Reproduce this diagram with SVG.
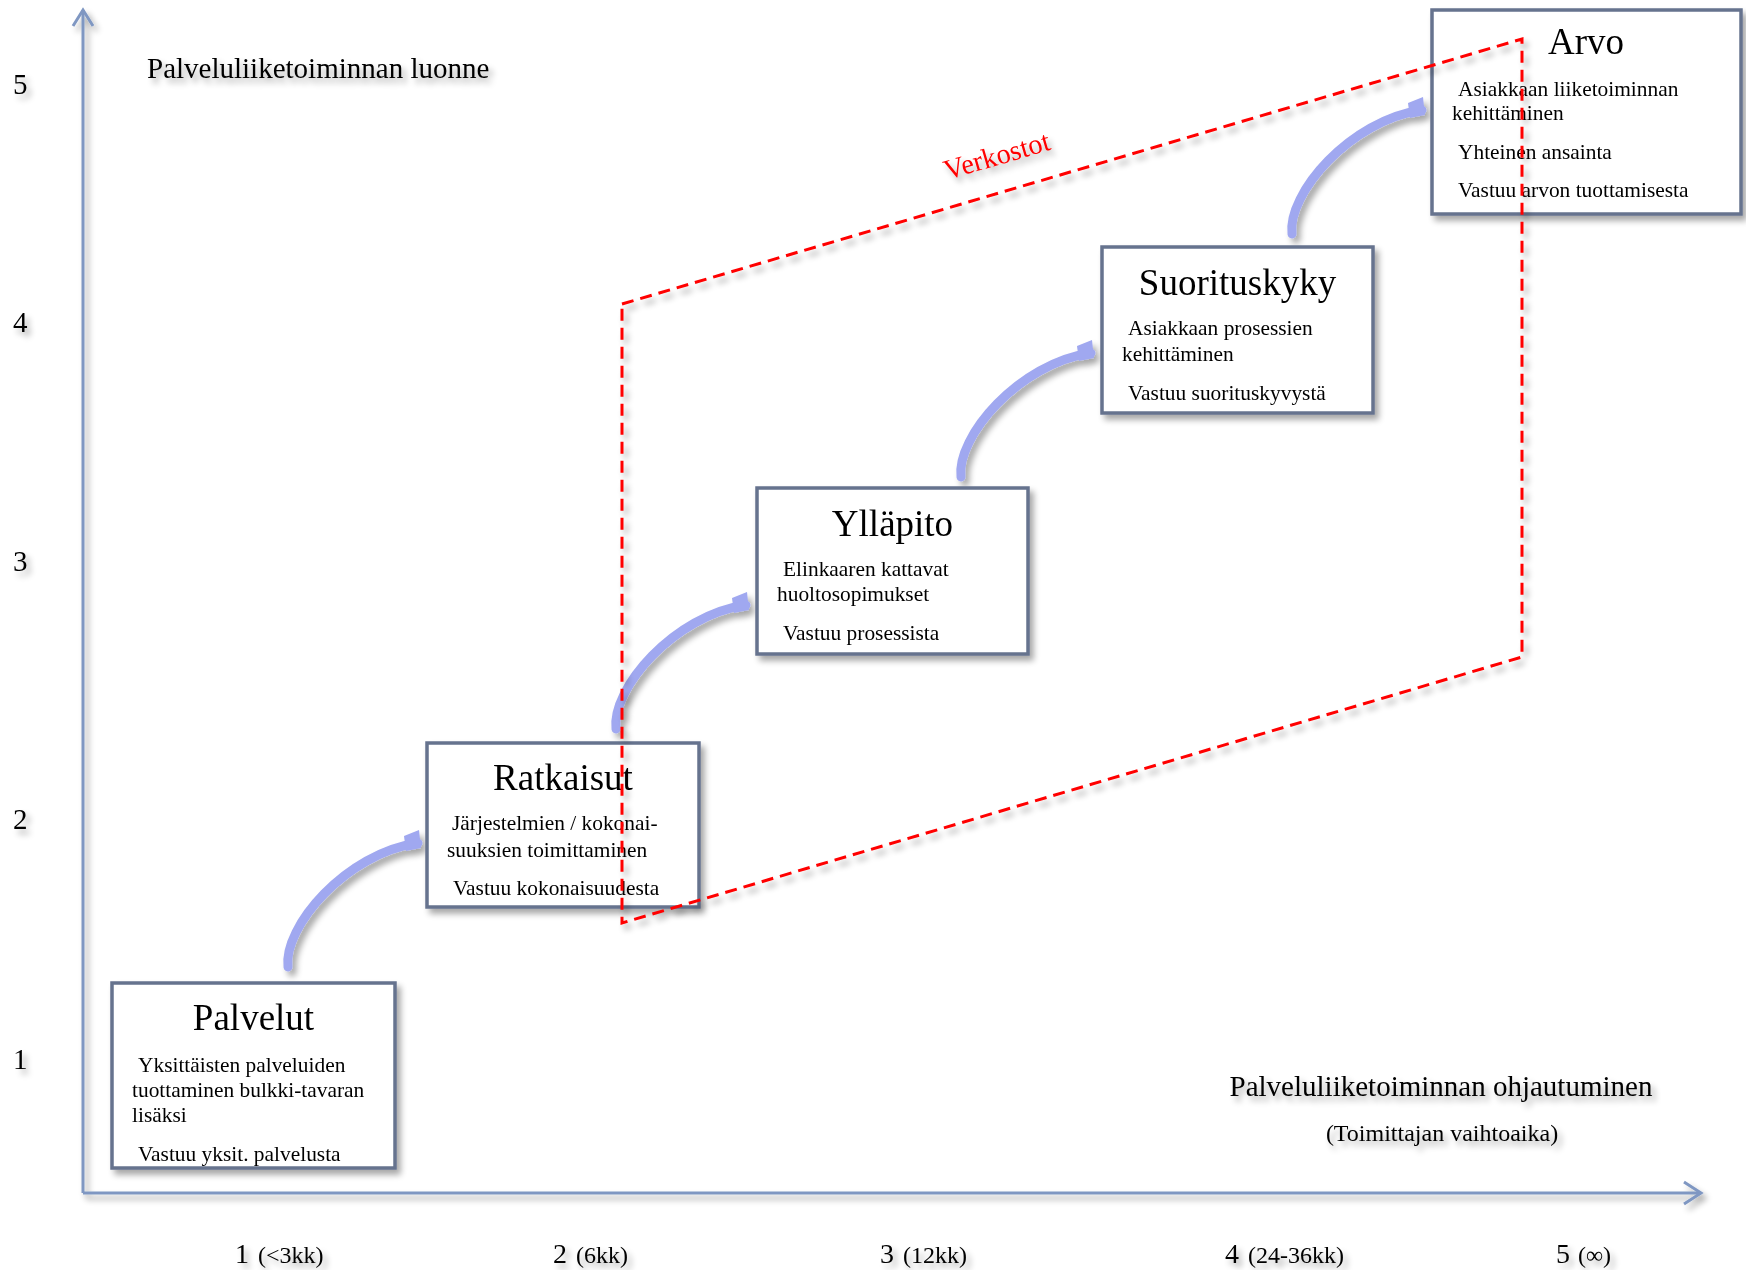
<svg xmlns="http://www.w3.org/2000/svg" width="1746" height="1270" viewBox="0 0 1746 1270">
<defs>
<style>
.t{font-family:"Liberation Serif","Times New Roman",serif;fill:#000}
.title{font-size:37px;text-anchor:middle}
.body{font-size:21.4px}
.box{fill:#fff;stroke:#66738e;stroke-width:3.5}
.ax{fill:none;stroke:#7f97c2;stroke-width:3}
.red{fill:none;stroke:#ff0000;stroke-width:3;stroke-dasharray:12 7}
.arr{fill:none;stroke:#a0a8f0;stroke-width:9;stroke-linecap:round}
.ah{fill:#a0a8f0}
.lbl{font-size:29px}
.big{font-size:28px}
.sm{font-size:24px}
</style>
<filter id="sh" x="-20%" y="-20%" width="150%" height="150%">
<feGaussianBlur in="SourceAlpha" stdDeviation="3"/>
<feOffset dx="4" dy="5" result="o"/>
<feComponentTransfer><feFuncA type="linear" slope="0.35"/></feComponentTransfer>
<feMerge><feMergeNode/><feMergeNode in="SourceGraphic"/></feMerge>
</filter>
<g id="arrowShape">
<path class="arr" d="M0,0 C-5,-40 58,-114 130,-124"/>
<polygon class="ah" points="116,-131 131,-137 133,-119 118,-116"/>
</g>
</defs>
<rect width="1746" height="1270" fill="#fff"/>

<g id="axes" filter="url(#sh)">
<line class="ax" x1="83" y1="10" x2="83" y2="1193"/>
<polyline class="ax" points="73,26 83,10 93,26"/>
<line class="ax" x1="83" y1="1193" x2="1701" y2="1193"/>
<polyline class="ax" points="1684,1182 1701,1193 1684,1204"/>
</g>

<g id="axis-labels" class="t" filter="url(#sh)">
<text class="lbl" x="13" y="94">5</text>
<text class="lbl" x="13" y="332">4</text>
<text class="lbl" x="13" y="571">3</text>
<text class="lbl" x="13" y="829">2</text>
<text class="lbl" x="13" y="1069">1</text>
<text class="lbl" x="147" y="78">Palveluliiketoiminnan luonne</text>
<text class="lbl" x="1441" y="1096" text-anchor="middle">Palveluliiketoiminnan ohjautuminen</text>
<text x="1442" y="1141" text-anchor="middle" style="font-size:24px">(Toimittajan vaihtoaika)</text>
<text x="235" y="1263"><tspan class="big">1</tspan><tspan class="sm" dx="9">(&lt;3kk)</tspan></text>
<text x="553" y="1263"><tspan class="big">2</tspan><tspan class="sm" dx="9">(6kk)</tspan></text>
<text x="880" y="1263"><tspan class="big">3</tspan><tspan class="sm" dx="9">(12kk)</tspan></text>
<text x="1225" y="1263"><tspan class="big">4</tspan><tspan class="sm" dx="9">(24-36kk)</tspan></text>
<text x="1556" y="1263"><tspan class="big">5</tspan><tspan class="sm" dx="8">(∞)</tspan></text>
</g>

<g id="connectors" filter="url(#sh)">
<use href="#arrowShape" transform="translate(288,967)"/>
<use href="#arrowShape" transform="translate(616,729)"/>
<use href="#arrowShape" transform="translate(961,477)"/>
<use href="#arrowShape" transform="translate(1292,234)"/>
</g>

<g id="node-palvelut" filter="url(#sh)">
<rect class="box" x="112" y="983" width="283" height="185"/>
<text class="t title" x="253.5" y="1030">Palvelut</text>
<text class="t body" x="138" y="1072">Yksittäisten palveluiden</text>
<text class="t body" x="132" y="1097">tuottaminen bulkki-tavaran</text>
<text class="t body" x="132" y="1122">lisäksi</text>
<text class="t body" x="138" y="1161">Vastuu yksit. palvelusta</text>
</g>

<g id="node-ratkaisut" filter="url(#sh)">
<rect class="box" x="427" y="743" width="272" height="164"/>
<text class="t title" x="563" y="790">Ratkaisut</text>
<text class="t body" x="452" y="830">Järjestelmien / kokonai-</text>
<text class="t body" x="447" y="857">suuksien toimittaminen</text>
<text class="t body" x="453" y="895">Vastuu kokonaisuudesta</text>
</g>

<g id="node-yllapito" filter="url(#sh)">
<rect class="box" x="757" y="488" width="271" height="166"/>
<text class="t title" x="892.5" y="536">Ylläpito</text>
<text class="t body" x="783" y="576">Elinkaaren kattavat</text>
<text class="t body" x="777" y="601">huoltosopimukset</text>
<text class="t body" x="783" y="640">Vastuu prosessista</text>
</g>

<g id="node-suorituskyky" filter="url(#sh)">
<rect class="box" x="1102" y="247" width="271" height="166"/>
<text class="t title" x="1237.5" y="295">Suorituskyky</text>
<text class="t body" x="1128" y="335">Asiakkaan prosessien</text>
<text class="t body" x="1122" y="361">kehittäminen</text>
<text class="t body" x="1128" y="400">Vastuu suorituskyvystä</text>
</g>

<g id="node-arvo" filter="url(#sh)">
<rect class="box" x="1432" y="10" width="309" height="204"/>
<text class="t title" x="1586" y="54">Arvo</text>
<text class="t body" x="1458" y="96">Asiakkaan liiketoiminnan</text>
<text class="t body" x="1452" y="120">kehittäminen</text>
<text class="t body" x="1458" y="159">Yhteinen ansainta</text>
<text class="t body" x="1458" y="197">Vastuu arvon tuottamisesta</text>
</g>

<g id="verkostot" filter="url(#sh)">
<polygon class="red" points="622,304 1522,39 1522,657 622,923"/>
<text class="t" x="947" y="180" transform="rotate(-16.3 947 180)" style="font-size:28.5px;fill:#ff0000">Verkostot</text>
</g>
</svg>
